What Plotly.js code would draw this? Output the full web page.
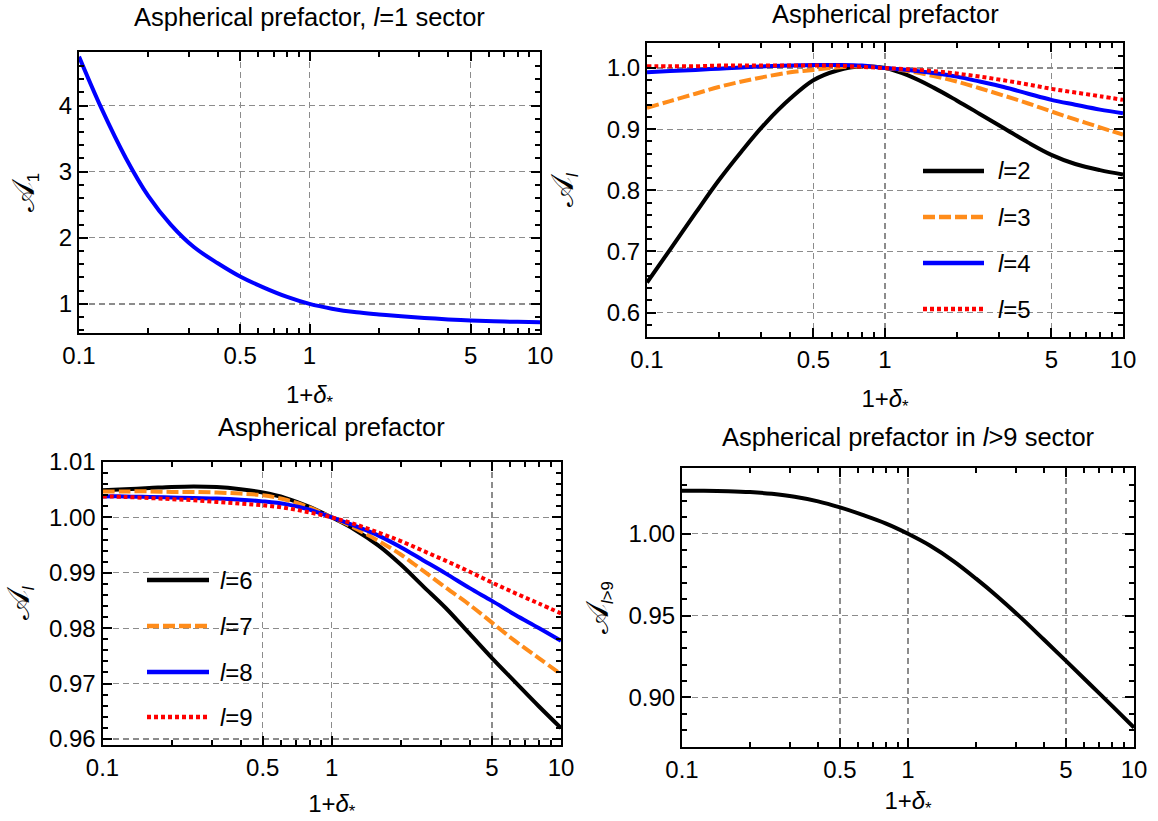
<!DOCTYPE html>
<html>
<head>
<meta charset="utf-8">
<script src="https://cdn.plot.ly/plotly-3.0.1.min.js"></script>
<style>
  html, body { margin: 0; padding: 0; background: #fff; }
  #chart { width: 1158px; height: 821px; }
</style>
</head>
<body>
<div id="chart"></div>
<script>
// ---------- data ----------
const delta = [0.1, 0.125, 0.16, 0.2, 0.25, 0.315, 0.4, 0.5, 0.63, 0.8, 1, 1.25, 1.6, 2, 2.5, 3.15, 4, 5, 6.3, 8, 10];

// l = 1 sector
const A1 = [4.74, 3.96, 3.20, 2.63, 2.20, 1.86, 1.615, 1.415, 1.251, 1.106, 1.000, 0.928, 0.873, 0.841, 0.813, 0.788, 0.766, 0.749, 0.737, 0.729, 0.724];
// l = 2..5
const A_l2 = [0.649, 0.703, 0.763, 0.816, 0.864, 0.910, 0.950, 0.980, 0.996, 1.003, 1.000, 0.988, 0.968, 0.947, 0.925, 0.902, 0.878, 0.858, 0.843, 0.833, 0.826];
const A_l3 = [0.935, 0.946, 0.958, 0.969, 0.978, 0.986, 0.993, 0.997, 1.001, 1.003, 1.000, 0.995, 0.987, 0.978, 0.967, 0.955, 0.942, 0.929, 0.916, 0.903, 0.891];
const A_l4 = [0.993, 0.995, 0.997, 0.999, 1.001, 1.003, 1.004, 1.005, 1.005, 1.004, 1.000, 0.997, 0.992, 0.986, 0.978, 0.969, 0.958, 0.948, 0.940, 0.932, 0.926];
const A_l5 = [1.003, 1.003, 1.003, 1.004, 1.004, 1.004, 1.004, 1.004, 1.004, 1.002, 1.000, 0.998, 0.995, 0.991, 0.986, 0.980, 0.973, 0.966, 0.960, 0.954, 0.948];
// l = 6..9
const A_l6 = [1.0049, 1.0051, 1.0053, 1.0055, 1.0056, 1.0055, 1.0051, 1.0045, 1.0035, 1.0019, 1.0000, 0.99787, 0.9949, 0.99149, 0.9876, 0.9836, 0.97895, 0.97459, 0.9703, 0.9659, 0.96196];
const A_l7 = [1.0047, 1.0047, 1.0047, 1.0046, 1.0046, 1.0045, 1.0043, 1.0040, 1.0032, 1.0018, 1.0000, 0.99816, 0.99574, 0.9933, 0.9904, 0.9873, 0.9842, 0.9810, 0.9777, 0.9746, 0.97168];
const A_l8 = [1.0038, 1.0038, 1.0037, 1.0036, 1.0035, 1.0034, 1.0032, 1.0029, 1.0024, 1.0014, 1.0000, 0.99854, 0.99672, 0.99462, 0.99228, 0.98985, 0.98723, 0.98493, 0.98243, 0.98004, 0.97772];
const A_l9 = [1.0038, 1.0037, 1.0035, 1.0033, 1.0031, 1.0028, 1.0025, 1.0022, 1.0017, 1.0009, 1.0000, 0.99884, 0.99725, 0.99573, 0.99398, 0.99215, 0.99018, 0.98824, 0.98634, 0.98445, 0.98268];
// l > 9 sector
const A_gt9 = [1.0263, 1.0263, 1.02605, 1.0255, 1.0244, 1.0226, 1.0198, 1.0161, 1.0115, 1.0062, 1.0000, 0.99282, 0.9830, 0.97257, 0.9614, 0.9489, 0.93521, 0.92232, 0.9088, 0.8948, 0.88153];

// tick labels and texts
const xTickVals = [0.1, 0.5, 1, 5, 10];
const xTickText = ['0.1', '0.5', '1', '5', '10'];
const xMinorVals = [0.2, 0.3, 0.4, 0.6, 0.7, 0.8, 0.9, 2, 3, 4, 6, 7, 8, 9];
const titles = [
  'Aspherical prefactor, <i>l</i>=1 sector',
  'Aspherical prefactor',
  'Aspherical prefactor',
  'Aspherical prefactor in <i>l</i>&gt;9 sector'
];
const SCRIPT_A = '<span style="font-size:32px">𝒜</span>';
const yTitles = [SCRIPT_A + '<sub>1</sub>', SCRIPT_A + '<sub><i>l</i></sub>', SCRIPT_A + '<sub><i>l</i></sub>', SCRIPT_A + '<sub><i>l</i>&gt;9</sub>'];
const xTitle = '1+<i>δ</i><sub>*</sub>';
const legendNames2 = ['<i>l</i>=2', '<i>l</i>=3', '<i>l</i>=4', '<i>l</i>=5'];
const legendNames3 = ['<i>l</i>=6', '<i>l</i>=7', '<i>l</i>=8', '<i>l</i>=9'];

// ---------- layout ----------
const W = 1158, H = 821;
const px = p => p / W;
const py = p => 1 - p / H;
const FONT = 'Liberation Sans, Arial, Helvetica, sans-serif';
// plot frames in pixels: [left, right, top, bottom]
const box = [
  [79, 540, 52, 333],
  [647, 1123, 43, 337],
  [102.5, 561, 461.5, 745],
  [682, 1134, 468, 747]
];
const gridStyle = { showgrid: true, gridcolor: '#8c8c8c', gridwidth: 1.2, griddash: '6px,4px' };
const frameStyle = {
  showline: true, linecolor: '#000', linewidth: 2, mirror: 'allticks',
  ticks: 'inside', ticklen: 9, tickwidth: 2, tickcolor: '#000',
  zeroline: false, tickfont: { family: FONT, size: 24, color: '#000' }
};
function xAxis(i, anchor, standoff) {
  const b = box[i];
  return Object.assign({}, frameStyle, gridStyle, {
    type: 'log', domain: [px(b[0]), px(b[1])], anchor: anchor,
    range: [-1, 1], tickmode: 'array', tickvals: xTickVals, ticktext: xTickText,
    minor: { tickvals: xMinorVals, ticks: 'inside', ticklen: 5, tickwidth: 2, tickcolor: '#000', showgrid: false },
    title: { text: xTitle, font: { family: FONT, size: 24, color: '#000' }, standoff: standoff }
  });
}
function yAxis(i, anchor, range, dtick, fmt, minorD, standoff) {
  const b = box[i];
  return Object.assign({}, frameStyle, gridStyle, {
    domain: [py(b[3]), py(b[2])], anchor: anchor,
    range: range, tickmode: 'linear', tick0: 0, dtick: dtick, tickformat: fmt,
    minor: { dtick: minorD, ticks: 'inside', ticklen: 5, tickwidth: 2, tickcolor: '#000', showgrid: false },
    title: { text: yTitles[i], font: { family: FONT, size: 24, color: '#000' }, standoff: standoff }
  });
}

const traces = [];
function addLine(y, xa, ya, color, dash, name) {
  traces.push({
    x: delta, y: y, xaxis: xa, yaxis: ya, type: 'scatter', mode: 'lines',
    line: { color: color, width: 4, dash: dash, shape: 'spline', smoothing: 1 },
    name: name || '', showlegend: false, hoverinfo: 'skip'
  });
}
const ORANGE = '#ff8c1a';
const styles = [
  { color: '#000000', dash: 'solid' },
  { color: ORANGE, dash: '12px,4px' },
  { color: '#0000ff', dash: 'solid' },
  { color: '#ff0000', dash: '4px,3px' }
];
addLine(A1, 'x', 'y', '#0000ff', 'solid');
[A_l2, A_l3, A_l4, A_l5].forEach((s, k) => addLine(s, 'x2', 'y2', styles[k].color, styles[k].dash, legendNames2[k]));
[A_l6, A_l7, A_l8, A_l9].forEach((s, k) => addLine(s, 'x3', 'y3', styles[k].color, styles[k].dash, legendNames3[k]));
addLine(A_gt9, 'x4', 'y4', '#000000', 'solid');

const titleY = [17, 14, 427, 437];
const annotations = titles.map((t, i) => ({
  text: t, xref: 'paper', yref: 'paper',
  x: px((box[i][0] + box[i][1]) / 2), y: py(titleY[i]),
  xanchor: 'center', yanchor: 'middle', showarrow: false,
  font: { family: FONT, size: 25.5, color: '#000' }
}));
// in-plot legends: key line + label
const shapes = [];
function addLegend(names, x0, x1, xt, rows) {
  names.forEach((n, k) => {
    shapes.push({ type: 'line', xref: 'paper', yref: 'paper', x0: px(x0), x1: px(x1), y0: py(rows[k]), y1: py(rows[k]),
      line: { color: styles[k].color, width: 4.5, dash: styles[k].dash } });
    annotations.push({ text: n, xref: 'paper', yref: 'paper', x: px(xt), y: py(rows[k]), xanchor: 'left', yanchor: 'middle',
      showarrow: false, font: { family: FONT, size: 24, color: '#000' } });
  });
}
addLegend(legendNames2, 923, 984, 996, [171, 217, 263, 309]);
addLegend(legendNames3, 147, 209, 218, [580, 626, 672, 717]);

const layout = {
  width: W, height: H,
  margin: { l: 0, r: 0, t: 0, b: 0 },
  paper_bgcolor: '#fff', plot_bgcolor: '#fff',
  font: { family: FONT, color: '#000' },
  showlegend: false,
  xaxis: xAxis(0, 'y', 18),
  yaxis: yAxis(0, 'x', [0.56, 4.81], 1, 'd', 0.2, 17),
  xaxis2: xAxis(1, 'y2', 18),
  yaxis2: yAxis(1, 'x2', [0.56, 1.041], 0.1, '.1f', 0.02, 26),
  xaxis3: xAxis(2, 'y3', 18),
  yaxis3: yAxis(2, 'x3', [0.9589, 1.0101], 0.01, '.2f', 0.002, 20),
  xaxis4: xAxis(3, 'y4', 10),
  yaxis4: yAxis(3, 'x4', [0.8697, 1.0402], 0.05, '.2f', 0.01, 13),
  annotations: annotations,
  shapes: shapes
};

Plotly.newPlot('chart', traces, layout, { staticPlot: true, displayModeBar: false });
</script>
</body>
</html>
